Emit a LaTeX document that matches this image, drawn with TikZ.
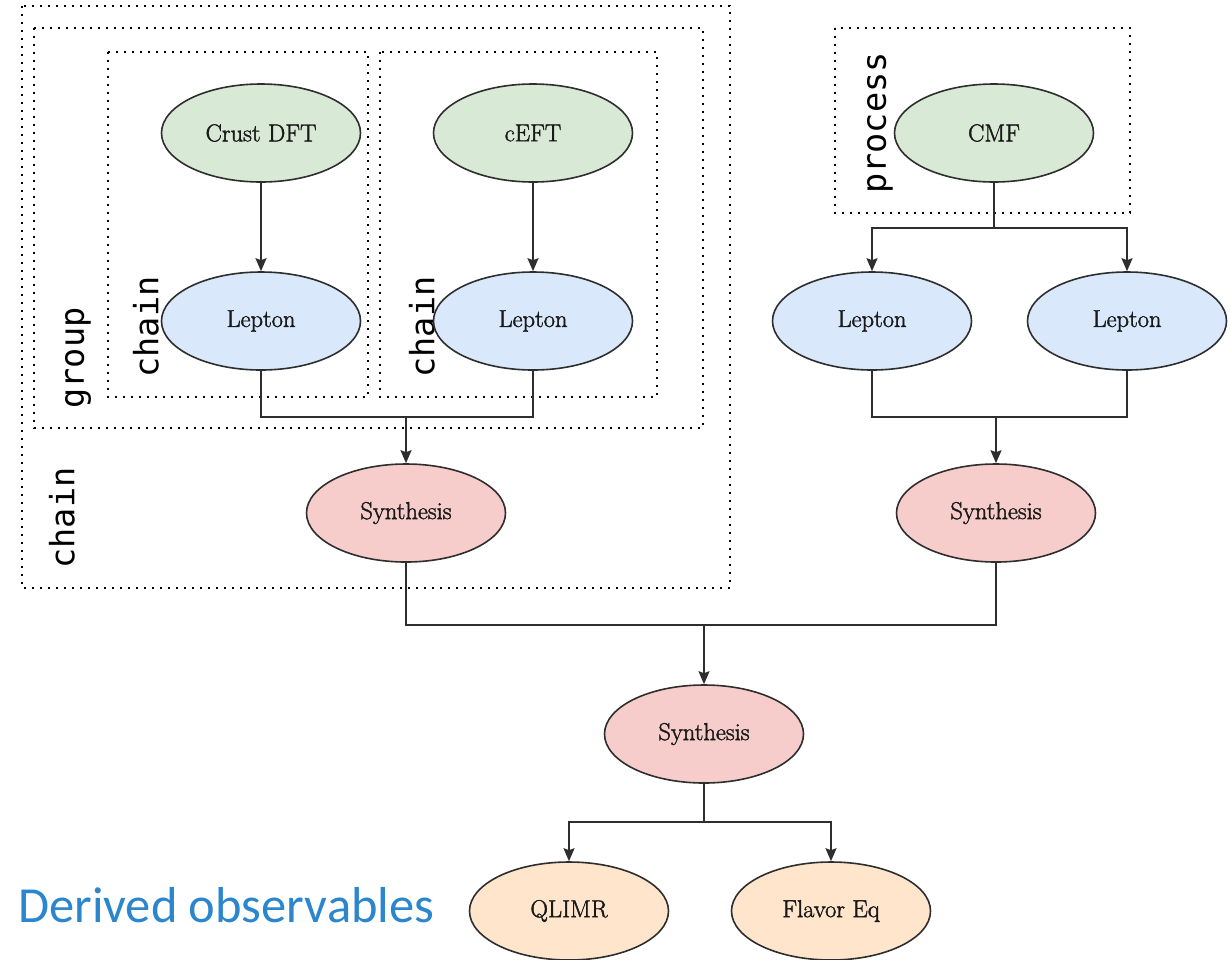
\documentclass[tikz,border=0pt]{standalone}
\usepackage{fontspec}
\setmainfont{Latin Modern Roman}
\newfontfamily\modelfont{Latin Modern Roman}[FakeBold=1.6]
\newfontfamily\labelmono{DejaVu Sans Mono}
\newfontfamily\captionsans{Carlito}
\usetikzlibrary{shapes.geometric,arrows.meta}

\definecolor{greenfill}{HTML}{D8EAD5}
\definecolor{bluefill}{HTML}{DAE8FC}
\definecolor{redfill}{HTML}{F7CDCB}
\definecolor{orangefill}{HTML}{FFE5CB}
\definecolor{edge}{HTML}{2E2E2E}
\definecolor{captionblue}{HTML}{2B86CD}

\tikzset{
  model/.style={ellipse, draw=edge, line width=1.6pt, minimum width=199pt,
    minimum height=98pt, inner sep=0pt, text=black!90,
    font=\modelfont\fontsize{24.5}{29}\selectfont},
  source/.style={model, fill=greenfill},
  lepton/.style={model, fill=bluefill},
  synth/.style={model, fill=redfill},
  observable/.style={model, fill=orangefill},
  wire/.style={draw=edge, line width=1.6pt},
  arr/.style={wire, -{Stealth[length=13pt, width=11pt, inset=2pt]}},
  frame/.style={draw=black, line width=1.7pt, dash pattern=on 1.7pt off 6.3pt},
  tag/.style={rotate=90, inner sep=0pt, font=\labelmono\fontsize{33.5}{40}\selectfont}
}

\begin{document}
\begin{tikzpicture}[x=1pt, y=-1pt]
  \useasboundingbox (0,0) rectangle (1230,959);
  \fill[white] (0,0) rectangle (1230,959);

  % grouping frames
  \draw[frame] (22,6) rectangle (730,588);
  \draw[frame] (34,28) rectangle (703,428);
  \draw[frame] (108,52) rectangle (368,397);
  \draw[frame] (380,52) rectangle (657,397);
  \draw[frame] (835,28) rectangle (1130,213);

  % frame tags
  \node[tag] (tagchainouter) at (62,518) {chain};
  \node[tag] (taggroup) at (78,358) {group};
  \node[tag] (tagchainA) at (146,327) {chain};
  \node[tag] (tagchainB) at (422,327) {chain};
  \node[tag] (tagprocess) at (880,123) {process};

  % models
  \node[source] (crust) at (261,133) {Crust DFT};
  \node[source] (ceft) at (533,133) {cEFT};
  \node[source] (cmf) at (994,133) {CMF};

  \node[lepton] (lepA) at (261,321) {Lepton};
  \node[lepton] (lepB) at (533,321) {Lepton};
  \node[lepton] (lepC) at (872,321) {Lepton};
  \node[lepton] (lepD) at (1127,321) {Lepton};

  \node[synth] (synA) at (406,513) {Synthesis};
  \node[synth] (synB) at (996,513) {Synthesis};
  \node[synth] (synC) at (704,734) {Synthesis};

  \node[observable] (qlimr) at (569,911) {QLIMR};
  \node[observable] (flavor) at (831,911) {Flavor Eq};

  \node[anchor=base west, inner sep=0pt, text=captionblue,
        font=\captionsans\fontsize{50.5}{60}\selectfont] (derived) at (18,922) {Derived observables};

  % junction points
  \coordinate (jA) at (406,417);
  \coordinate (jCMF) at (994,228);
  \coordinate (jB) at (996,417);
  \coordinate (jC) at (704,625);
  \coordinate (jD) at (704,822);

  % connectors
  \draw[arr] (crust) -- (lepA);
  \draw[arr] (ceft) -- (lepB);

  \draw[wire] (lepA.south) |- (jA) -| (lepB.south);
  \draw[arr] (jA) -- (synA.north);

  \draw[wire] (cmf.south) -- (jCMF);
  \draw[arr] (jCMF) -| (lepC.north);
  \draw[arr] (jCMF) -| (lepD.north);

  \draw[wire] (lepC.south) |- (jB) -| (lepD.south);
  \draw[arr] (jB) -- (synB.north);

  \draw[wire] (synA.south) |- (jC) -| (synB.south);
  \draw[arr] (jC) -- (synC.north);

  \draw[wire] (synC.south) -- (jD);
  \draw[arr] (jD) -| (qlimr.north);
  \draw[arr] (jD) -| (flavor.north);
\end{tikzpicture}
\end{document}
